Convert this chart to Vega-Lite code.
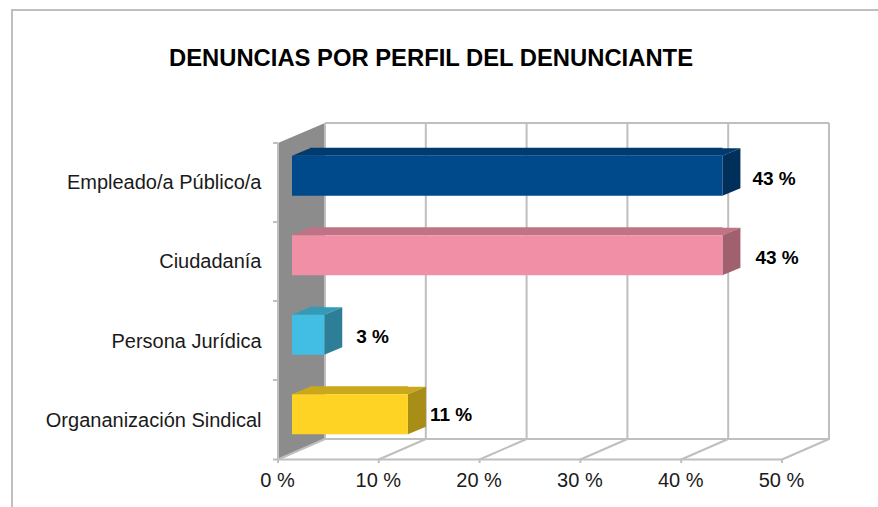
{
"$schema":"https://vega.github.io/schema/vega-lite/v6.json",
"width":504,"height":318,
"autosize":{"type":"none"},
"padding":{"left":292,"top":136,"right":82,"bottom":53},
"background":"#ffffff",
"config":{"view":{"stroke":null},
 "axisX":{"domain":false,"ticks":false,"grid":false,"labelFont":"Liberation Sans","labelFontSize":20,"labelColor":"#1a1a1a","labelPadding":16,"labelOffset":-15,"labelFlush":false,"labelOverlap":false,"title":null},
 "axisY":{"domain":false,"ticks":false,"grid":false,"labelFont":"Liberation Sans","labelFontSize":20,"labelColor":"#1a1a1a","labelPadding":31,"labelOffset":7,"labelLimit":300,"title":null}},
"title":{"text":"DENUNCIAS POR PERFIL DEL DENUNCIANTE","font":"Liberation Sans","fontSize":23.8,"fontWeight":"bold","color":"#000000","anchor":"middle","frame":"group","baseline":"alphabetic","dx":-113,"dy":83.5,"offset":0},
"datasets":{
"rows":[
{"perfil":"Empleado/a Público/a","valor":42.7,"base":0,"etiqueta":"43 %"},
{"perfil":"Ciudadanía","valor":42.7,"base":0,"etiqueta":"43 %"},
{"perfil":"Persona Jurídica","valor":3.2,"base":0,"etiqueta":"3 %"},
{"perfil":"Organanización Sindical","valor":11.5,"base":0,"etiqueta":"11 %"}
],
"ticks":[{"t":0},{"t":10},{"t":20},{"t":30},{"t":40},{"t":50}],
"origin":[{"t":0}]
},
"data":{"name":"rows"},
"layer":[
{"data":{"name":"origin"},
 "mark":{"type":"point","filled":true,"opacity":1,"strokeWidth":0,"size":4,"fill":"#8C8C8C","shape":"M-14,-152 L33,-172 L33,144 L-14,164.5 Z"},
 "encoding":{"x":{"field":"t","type":"quantitative","title":null,"scale":{"domain":[0,50],"nice":false,"zero":false},"axis":{"values":[0,10,20,30,40,50],"labelExpr":"datum.value + ' %'"}}}},
{"data":{"name":"ticks"},
 "mark":{"type":"point","filled":false,"opacity":1,"strokeWidth":2,"size":4,"stroke":"#BFBFBF","shape":"M33,-172 L33,144 L-14,164.5 L-14,168"},
 "encoding":{"x":{"field":"t","type":"quantitative","title":null}}},
{"data":{"name":"origin"},
 "mark":{"type":"point","filled":false,"opacity":1,"strokeWidth":2,"size":4,"stroke":"#BFBFBF","shape":"M-280,212 L-280,-285 L586,-285 M33,-172 L537,-172 M33,144 L537,144 M-14,164.5 L490,164.5 M-14,-152 L-14,164.5 M-19,-152 L-14,-152 M-19,-73 L-14,-73 M-19,6 L-14,6 M-19,85 L-14,85 M-19,164.5 L-14,164.5"},
 "encoding":{"x":{"field":"t","type":"quantitative","title":null}}},
{"mark":{"type":"bar","height":8,"yOffset":-24,"x2Offset":18},
 "encoding":{
  "y":{"field":"perfil","type":"nominal","sort":null,"title":null},
  "x":{"field":"valor","type":"quantitative","title":null},
  "x2":{"field":"base"},
  "color":{"field":"perfil","type":"nominal","legend":null,"scale":{"domain":["Empleado/a Público/a","Ciudadanía","Persona Jurídica","Organanización Sindical"],"range":["#003B70","#C07384","#359AB8","#C9A81C"]}}}},
{"mark":{"type":"point","filled":true,"opacity":1,"strokeWidth":0,"size":4,"shape":"M0,-20 L18,-27.5 L18,-20 Z"},
 "encoding":{
  "y":{"field":"perfil","type":"nominal","sort":null,"title":null},
  "x":{"field":"base","type":"quantitative","title":null},
  "color":{"field":"perfil","type":"nominal","legend":null,"scale":{"domain":["Empleado/a Público/a","Ciudadanía","Persona Jurídica","Organanización Sindical"],"range":["#003B70","#C07384","#359AB8","#C9A81C"]}}}},
{"mark":{"type":"point","filled":true,"opacity":1,"strokeWidth":0,"size":4,"shape":"M0,-20 L18,-27.5 L-1,-27.5 L-1,-20 Z"},
 "encoding":{
  "y":{"field":"perfil","type":"nominal","sort":null,"title":null},
  "x":{"field":"valor","type":"quantitative","title":null},
  "color":{"field":"perfil","type":"nominal","legend":null,"scale":{"domain":["Empleado/a Público/a","Ciudadanía","Persona Jurídica","Organanización Sindical"],"range":["#003B70","#C07384","#359AB8","#C9A81C"]}}}},
{"mark":{"type":"point","filled":true,"opacity":1,"strokeWidth":0,"size":4,"shape":"M0,-20 L18,-27.5 L18,12.5 L0,20 Z"},
 "encoding":{
  "y":{"field":"perfil","type":"nominal","sort":null,"title":null},
  "x":{"field":"valor","type":"quantitative","title":null},
  "color":{"field":"perfil","type":"nominal","legend":null,"scale":{"domain":["Empleado/a Público/a","Ciudadanía","Persona Jurídica","Organanización Sindical"],"range":["#002F5A","#A0606E","#2D7F98","#A88D17"]}}}},
{"mark":{"type":"bar","height":40},
 "encoding":{
  "y":{"field":"perfil","type":"nominal","sort":null,"title":null,"scale":{"paddingInner":0,"paddingOuter":0}},
  "x":{"field":"valor","type":"quantitative","title":null},
  "color":{"field":"perfil","type":"nominal","legend":null,"scale":{"domain":["Empleado/a Público/a","Ciudadanía","Persona Jurídica","Organanización Sindical"],"range":["#004A8C","#F08FA5","#42BDE4","#FFD324"]}}}},
{"mark":{"type":"text","align":"left","baseline":"middle","font":"Liberation Sans","fontSize":19,"fontWeight":"bold","color":"#000000","dy":{"expr":"datum.perfil === 'Organanización Sindical' ? 1 : datum.perfil === 'Persona Jurídica' ? 2 : 3"},"dx":{"expr":"datum.perfil === 'Ciudadanía' ? 33 : datum.perfil === 'Organanización Sindical' ? 22 : datum.perfil === 'Persona Jurídica' ? 32 : 30"}},
 "encoding":{
  "y":{"field":"perfil","type":"nominal","sort":null,"title":null},
  "x":{"field":"valor","type":"quantitative","title":null},
  "text":{"field":"etiqueta"}}}
],
"resolve":{"scale":{"color":"independent"}}
}
